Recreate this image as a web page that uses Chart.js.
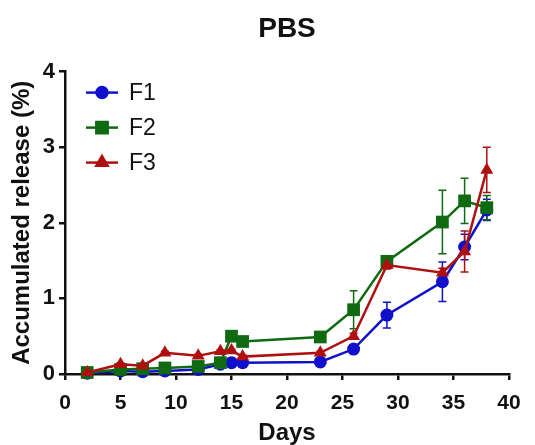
<!DOCTYPE html>
<html>
<head>
<meta charset="utf-8">
<script src="https://cdn.jsdelivr.net/npm/chart.js@4"></script>
<style>
  html, body { margin: 0; padding: 0; background: #ffffff; }
  #wrap { width: 535px; height: 445px; }
</style>
</head>
<body>
<div id="wrap"><canvas id="chart" width="535" height="445"></canvas></div>
<script>
// data
const days = [2, 5, 7, 9, 12, 14, 15, 16, 23, 26, 29, 34, 36, 38];
const f1 = [0.01, 0.04, 0.03, 0.04, 0.06, 0.13, 0.15, 0.15, 0.16, 0.33, 0.78, 1.22, 1.68, 2.17];
const f1Err = [0.01, 0.02, 0.01, 0.01, 0.01, 0.02, 0.02, 0.02, 0.02, 0.03, 0.17, 0.26, 0.17, 0.14];
const f2 = [0.02, 0.06, 0.07, 0.08, 0.10, 0.15, 0.50, 0.43, 0.49, 0.85, 1.49, 2.01, 2.29, 2.20];
const f2Err = [0.01, 0.01, 0.01, 0.01, 0.02, 0.02, 0.03, 0.02, 0.03, 0.25, 0.05, 0.42, 0.30, 0.16];
const f3 = [0.02, 0.13, 0.11, 0.28, 0.24, 0.30, 0.31, 0.23, 0.28, 0.50, 1.44, 1.34, 1.62, 2.70];
const f3Err = [0.01, 0.02, 0.02, 0.02, 0.02, 0.02, 0.02, 0.02, 0.02, 0.04, 0.05, 0.06, 0.27, 0.30];
const seriesNames = ['F1', 'F2', 'F3'];
const xTicks = [0, 5, 10, 15, 20, 25, 30, 35, 40];
const yTicks = [0, 1, 2, 3, 4];

const FONT = "'Liberation Sans', Arial, sans-serif";
const colors = ['#1010cc', '#0f6a12', '#b00f0f'];
const shapes = ['circle', 'rect', 'triangle'];
const radii = [6.5, 9, 7.5];

const toPoints = (ys) => days.map((d, i) => ({ x: d, y: ys[i] }));
const errs = [f1Err, f2Err, f3Err];

// vertical error bars, drawn through the scales
const errorBars = {
  id: 'errorBars',
  beforeDatasetsDraw(chart) {
    const { ctx, scales: { x, y } } = chart;
    ctx.save();
    chart.data.datasets.forEach((ds, di) => {
      ctx.strokeStyle = colors[di];
      ctx.lineWidth = 1.5;
      ds.data.forEach((p, i) => {
        const e = errs[di][i];
        const px = x.getPixelForValue(p.x);
        const top = y.getPixelForValue(p.y + e);
        const bot = y.getPixelForValue(p.y - e);
        ctx.beginPath();
        ctx.moveTo(px, top); ctx.lineTo(px, bot);
        ctx.moveTo(px - 4, top); ctx.lineTo(px + 4, top);
        ctx.moveTo(px - 4, bot); ctx.lineTo(px + 4, bot);
        ctx.stroke();
      });
    });
    ctx.restore();
  }
};

// legend inside the plot, line + marker + label
const insideLegend = {
  id: 'insideLegend',
  afterDraw(chart) {
    const { ctx, chartArea } = chart;
    ctx.save();
    chart.data.datasets.forEach((ds, i) => {
      const cy = chartArea.top + 21 + i * 35;
      const x0 = chartArea.left + 21;
      ctx.strokeStyle = colors[i];
      ctx.lineWidth = 2.5;
      ctx.beginPath();
      ctx.moveTo(x0, cy); ctx.lineTo(x0 + 32, cy);
      ctx.stroke();
      Chart.helpers.drawPoint(ctx, {
        pointStyle: shapes[i], radius: radii[i] - 1, borderWidth: 1
      }, x0 + 16, cy);
      ctx.fillStyle = colors[i];
      ctx.fill();
      ctx.fillStyle = '#111';
      ctx.font = '23px ' + FONT;
      ctx.textBaseline = 'middle';
      ctx.fillText(ds.label, x0 + 43, cy + 1);
    });
    ctx.restore();
  }
};

new Chart(document.getElementById('chart').getContext('2d'), {
  type: 'line',
  data: {
    datasets: [f1, f2, f3].map((ys, i) => ({
      label: seriesNames[i],
      data: toPoints(ys),
      borderColor: colors[i],
      backgroundColor: colors[i],
      borderWidth: 2.5,
      pointStyle: shapes[i],
      pointRadius: radii[i],
      pointBorderWidth: 0,
      tension: 0,
      clip: false,
      order: 3 - i,
    })),
  },
  options: {
    responsive: false,
    animation: false,
    layout: { padding: { left: 0, right: 26, top: 0, bottom: 0 } },
    plugins: {
      legend: { display: false },
      tooltip: { enabled: false },
      title: {
        display: true,
        fullSize: false,
        text: 'PBS',
        color: '#111',
        font: { size: 28, weight: 'bold', family: FONT },
        padding: { top: 12, bottom: 26 },
      },
    },
    scales: {
      x: {
        type: 'linear',
        min: 0,
        max: 40,
        afterBuildTicks: (s) => { s.ticks = xTicks.map(v => ({ value: v })); },
        afterFit: (s) => { s.height = 71; },
        ticks: {
          color: '#111',
          padding: 11,
          maxRotation: 0,
          font: { size: 21, weight: 'bold', family: FONT },
        },
        grid: { drawOnChartArea: false, color: '#111', lineWidth: 2.5, tickLength: 6 },
        border: { color: '#111', width: 2.5 },
        title: {
          display: true,
          text: 'Days',
          color: '#111',
          padding: { top: 2, bottom: -3 },
          font: { size: 24, weight: 'bold', family: FONT },
        },
      },
      y: {
        min: 0,
        max: 4,
        afterBuildTicks: (s) => { s.ticks = yTicks.map(v => ({ value: v })); },
        afterFit: (s) => { s.width = 65; },
        ticks: {
          color: '#111',
          padding: 4,
          font: { size: 22, weight: 'bold', family: FONT },
        },
        grid: { drawOnChartArea: false, color: '#111', lineWidth: 2.5, tickLength: 6 },
        border: { color: '#111', width: 2.5 },
        title: {
          display: true,
          text: 'Accumulated release (%)',
          color: '#111',
          padding: { top: 8, bottom: 4 },
          font: { size: 24, weight: 'bold', family: FONT },
        },
      },
    },
  },
  plugins: [errorBars, insideLegend],
});
</script>
</body>
</html>
